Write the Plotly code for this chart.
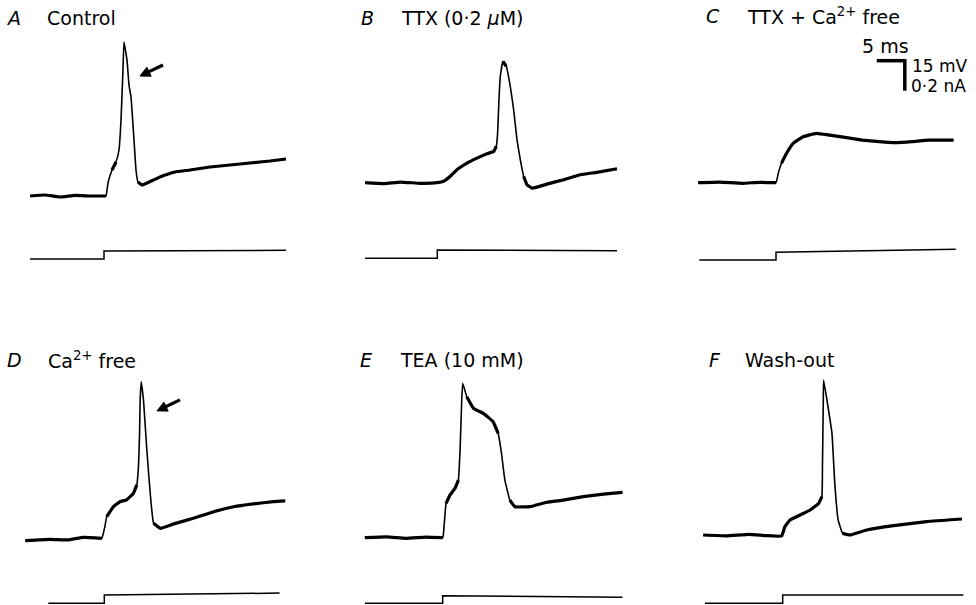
import math
import plotly.graph_objects as go

# ---------------- data (time in ms from current-step onset, voltage in mV above rest, current in nA) -------------
panel_letters = ["A", "B", "C", "D", "E", "F"]
panel_titles = ["Control", "TTX (0·2 <i>μ</i>M)", "TTX + Ca<sup>2+</sup> free",
                "Ca<sup>2+</sup> free", "TEA (10 mM)", "Wash-out"]

A_t = [-13.2, -10.5, -7.9, -5.2, -2.5, 0.0, 0.36, 0.71, 1.43, 2.14, 2.68, 3.04, 3.39, 3.57, 4.11, 4.46, 4.82,
       5.36, 5.71, 6.07, 6.79, 7.68, 10.0, 12.68, 15.36, 18.93, 22.5, 26.07, 29.64, 32.5]
A_v = [0.0, 0.5, -0.5, 0.3, 0.0, 0.0, 0.0, 6.5, 13.0, 17.0, 23.0, 38.0, 63.0, 77.0, 68.0, 55.5, 49.5,
       28.0, 13.0, 7.0, 5.5, 6.5, 9.5, 12.0, 13.0, 14.5, 15.5, 16.5, 17.5, 18.5]

B_t = [-12.9, -9.5, -6.6, -3.0, 0.0, 1.13, 2.32, 3.51, 5.3, 7.08, 8.87, 10.06, 10.54, 10.77, 11.01, 11.25, 11.73,
       12.32, 13.04, 13.63, 14.23, 14.82, 15.42, 16.01, 16.9, 17.8, 19.58, 22.56, 25.54, 28.51, 32.08]
B_v = [0.0, -0.5, 0.3, -0.3, 0.0, 0.7, 3.2, 6.5, 9.8, 12.3, 14.5, 15.6, 18.2, 24.8, 41.5, 53.2, 60.7,
       58.2, 48.0, 36.5, 21.5, 11.5, 3.2, -1.0, -2.7, -2.2, -0.7, 1.5, 4.0, 5.2, 7.0]

C_t = [-13.9, -10.0, -6.0, -3.0, 0.0, 0.4, 0.98, 1.88, 3.07, 4.85, 7.2, 9.6, 12.6, 15.4, 18.4, 21.3, 24.3, 27.2, 31.7]
C_v = [0.0, 0.3, -0.3, 0.2, 0.0, 4.7, 9.7, 14.7, 19.7, 23.0, 24.7, 23.8, 22.5, 21.3, 20.5, 20.0, 20.5, 21.3, 21.3]

D_t = [-14.1, -9.7, -6.5, -3.7, -0.46, 0.1, 0.43, 1.63, 2.8, 4.0, 5.2, 5.8, 6.1, 6.3, 6.4, 6.6,
       7.0, 7.6, 8.2, 8.8, 10.0, 12.4, 15.9, 19.5, 23.1, 26.6, 30.2, 32.3]
D_v = [-1.2, -0.5, -0.8, 0.5, 0.0, 5.8, 10.8, 15.8, 18.3, 19.2, 22.5, 26.7, 35.8, 52.5, 69.0, 78.3,
       69.0, 44.0, 22.5, 7.5, 5.0, 7.2, 10.0, 13.3, 15.8, 17.2, 18.3, 18.7]

E_t = [-13.9, -10.0, -6.5, -3.0, 0.0, 0.24, 0.6, 1.3, 2.2, 2.8, 3.1, 3.4, 3.57, 4.3, 5.5, 7.25, 9.0, 9.9,
       10.5, 11.1, 12.0, 12.9, 15.6, 18.6, 21.5, 25.1, 28.7, 32.1]
E_v = [0.0, 0.4, -0.3, 0.3, 0.0, 5.5, 17.2, 21.3, 24.7, 28.8, 43.8, 68.8, 77.2, 70.5, 64.7, 62.2, 58.0, 52.2,
       42.2, 28.8, 18.8, 15.5, 15.5, 17.7, 18.8, 20.5, 21.8, 22.7]

F_t = [-14.2, -10.0, -6.0, -3.0, -0.2, 0.4, 1.3, 3.1, 4.9, 6.4, 7.0, 7.1, 7.25, 7.3, 7.9, 8.8, 9.3, 9.9,
       10.7, 12.0, 15.0, 19.8, 25.7, 32.0]
F_v = [0.0, -0.4, 0.3, -0.3, -0.5, 4.2, 7.5, 10.0, 12.5, 15.8, 19.2, 34.2, 67.5, 77.5, 67.5, 50.8, 25.8, 7.5,
       0.8, 0.0, 2.5, 4.7, 6.7, 8.0]

A_it = [-13.2, 0.0, 0.0, 32.5];  A_i = [0.0, 0.0, 0.053, 0.058]
B_it = [-12.9, 0.0, 0.0, 32.1];  B_i = [0.0, 0.0, 0.055, 0.051]
C_it = [-13.7, 0.0, 0.0, 32.1];  C_i = [0.0, 0.0, 0.051, 0.071]
D_it = [-10.0, 0.0, 0.0, 31.3];  D_i = [0.0, 0.0, 0.055, 0.068]
E_it = [-13.9, 0.0, 0.0, 32.1];  E_i = [0.0, 0.0, 0.051, 0.040]
F_it = [-13.9, 0.0, 0.0, 32.25]; F_i = [0.0, 0.0, 0.055, 0.055]

volt_t = [A_t, B_t, C_t, D_t, E_t, F_t]
volt_v = [A_v, B_v, C_v, D_v, E_v, F_v]
cur_t = [A_it, B_it, C_it, D_it, E_it, F_it]
cur_i = [A_i, B_i, C_i, D_i, E_i, F_i]

# scale bar (in panel C): 5 ms, 15 mV / 0.2 nA
bar_ms = 5.0
bar_mv = 15.0

# ---------------- layout geometry (pixels) ----------------
W, H = 976, 605
PX_PER_MS = 5.6
PX_PER_MV = 2.0
PX_PER_NA = 150.0
FAST_SLOPE = 8.0  # mV/ms: faster segments are drawn with a thin beam

boxes = [(0, 320, 28, 280), (330, 650, 28, 280), (660, 976, 28, 280),
         (0, 320, 370, 605), (330, 650, 370, 605), (660, 976, 370, 605)]
anchors = [(104.0, 196.0, 259.0), (437.3, 182.7, 258.3), (776.0, 182.7, 260.0),
           (104.3, 538.3, 603.3), (442.7, 537.7, 603.3), (782.7, 535.0, 603.3)]
label_pos = [(13, 45, 18), (367, 399, 18), (713, 745, 16.5),
             (14, 46, 360), (366, 398, 360), (715, 743, 360)]


def slow_parts(t, v):
    xs, ys = [], []
    for j in range(len(t) - 1):
        dt = t[j + 1] - t[j]
        slope = abs(v[j + 1] - v[j]) / dt if dt > 0 else 1e9
        if slope < FAST_SLOPE:
            if not xs or xs[-1] is None or xs[-1] != t[j]:
                if xs and xs[-1] is not None:
                    xs.append(None); ys.append(None)
                xs.append(t[j]); ys.append(v[j])
            xs.append(t[j + 1]); ys.append(v[j + 1])
        else:
            if xs and xs[-1] is not None:
                xs.append(None); ys.append(None)
    return xs, ys


fig = go.Figure()
layout = dict(width=W, height=H, margin=dict(l=0, r=0, t=0, b=0),
              paper_bgcolor="white", plot_bgcolor="rgba(0,0,0,0)", showlegend=False,
              font=dict(family="DejaVu Sans", size=19, color="black"))
annotations = []
shapes = []

for k in range(6):
    n = k + 1
    x0, x1, y0, y1 = boxes[k]
    xs, yb, yc = anchors[k]
    xname = "xaxis" if n == 1 else f"xaxis{n}"
    yname = "yaxis" if n == 1 else f"yaxis{n}"
    cname = f"yaxis{n + 6}"
    xr = "x" if n == 1 else f"x{n}"
    yr = "y" if n == 1 else f"y{n}"
    cr = f"y{n + 6}"
    layout[xname] = dict(domain=[x0 / W, x1 / W], range=[(x0 - xs) / PX_PER_MS, (x1 - xs) / PX_PER_MS],
                         visible=False, anchor=yr)
    layout[yname] = dict(domain=[1 - y1 / H, 1 - y0 / H], range=[(yb - y1) / PX_PER_MV, (yb - y0) / PX_PER_MV],
                         visible=False, anchor=xr)
    layout[cname] = dict(overlaying=yr, range=[(yc - y1) / PX_PER_NA, (yc - y0) / PX_PER_NA],
                         visible=False, anchor=xr)
    fig.add_trace(go.Scatter(x=volt_t[k], y=volt_v[k], mode="lines", xaxis=xr, yaxis=yr,
                             line=dict(color="black", width=1.6, shape="spline", smoothing=0.3),
                             hoverinfo="skip"))
    st, sv = slow_parts(volt_t[k], volt_v[k])
    fig.add_trace(go.Scatter(x=st, y=sv, mode="lines", xaxis=xr, yaxis=yr, connectgaps=False,
                             line=dict(color="black", width=3.2, shape="spline", smoothing=0.3),
                             hoverinfo="skip"))
    fig.add_trace(go.Scatter(x=cur_t[k], y=cur_i[k], mode="lines", xaxis=xr, yaxis=cr,
                             line=dict(color="black", width=1.5), hoverinfo="skip"))
    lx, tx, ly = label_pos[k]
    annotations.append(dict(text=f"<i>{panel_letters[k]}</i>", xref="paper", yref="paper",
                            x=lx / W, y=1 - ly / H, xanchor="center", yanchor="middle",
                            showarrow=False))
    annotations.append(dict(text=panel_titles[k], xref="paper", yref="paper",
                            x=tx / W, y=1 - ly / H, xanchor="left", yanchor="middle",
                            showarrow=False))

# arrows in A and D pointing at the spike (drawn as shapes, pixel offsets converted to data units)
ARROW_DX, ARROW_DY = 23.0, 11.0   # tail offset from head, px (right, up)
HEAD_LEN, HEAD_HALF = 10.0, 5.0
for (xr, yr, t_head, v_head) in [("x", "y", 6.43, 60.0), ("x4", "y4", 9.41, 63.7)]:
    L = math.hypot(ARROW_DX, ARROW_DY)
    ux, uy = ARROW_DX / L, ARROW_DY / L
    px_, py_ = -uy, ux

    def to_data(dx, dy):
        return t_head + dx / PX_PER_MS, v_head + dy / PX_PER_MV

    bx, by = ux * HEAD_LEN, uy * HEAD_LEN
    c1 = to_data(bx + px_ * HEAD_HALF, by + py_ * HEAD_HALF)
    c2 = to_data(bx - px_ * HEAD_HALF, by - py_ * HEAD_HALF)
    tip = to_data(0, 0)
    s0 = to_data(ux * (HEAD_LEN - 1), uy * (HEAD_LEN - 1))
    tail = to_data(ARROW_DX, ARROW_DY)
    shapes.append(dict(type="line", xref=xr, yref=yr, x0=s0[0], y0=s0[1], x1=tail[0], y1=tail[1],
                       line=dict(color="black", width=3.2)))
    shapes.append(dict(type="path", xref=xr, yref=yr,
                       path=f"M {tip[0]} {tip[1]} L {c1[0]} {c1[1]} L {c2[0]} {c2[1]} Z",
                       fillcolor="black", line=dict(color="black", width=1)))

# scale bar in panel C
corner_t, corner_v = 23.0, 61.0
shapes.append(dict(type="line", xref="x3", yref="y3", x0=corner_t - bar_ms, x1=corner_t,
                   y0=corner_v, y1=corner_v, line=dict(color="black", width=3.5)))
shapes.append(dict(type="line", xref="x3", yref="y3", x0=corner_t, x1=corner_t,
                   y0=corner_v + 0.8, y1=corner_v - bar_mv, line=dict(color="black", width=3.5)))
annotations.append(dict(text="5 ms", xref="paper", yref="paper", x=885 / W, y=1 - 46 / H,
                        xanchor="center", yanchor="middle", showarrow=False))
annotations.append(dict(text="15 mV", xref="paper", yref="paper", x=910 / W, y=1 - 66 / H,
                        xanchor="left", yanchor="middle", showarrow=False, font=dict(size=17)))
annotations.append(dict(text="0·2 nA", xref="paper", yref="paper", x=909 / W, y=1 - 86 / H,
                        xanchor="left", yanchor="middle", showarrow=False, font=dict(size=17)))

layout["annotations"] = annotations
layout["shapes"] = shapes
fig.update_layout(**layout)
fig.write_html("out.html")
